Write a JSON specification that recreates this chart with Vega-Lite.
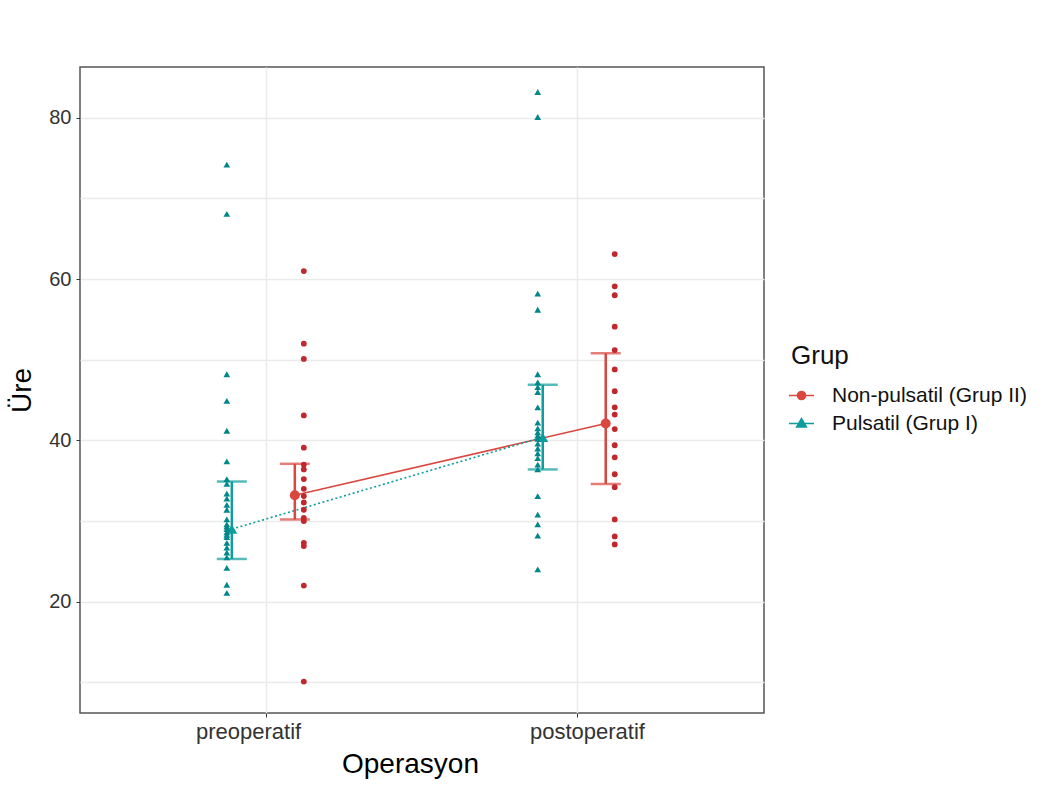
{
  "$schema": "https://vega.github.io/schema/vega-lite/v6.json",
  "width": 684,
  "height": 646,
  "autosize": "none",
  "padding": {"left": 80, "top": 67, "right": 294, "bottom": 72},
  "background": "white",
  "config": {
    "font": "Liberation Sans",
    "view": {"stroke": "#555", "strokeWidth": 1.5},
    "axis": {"domain": false, "gridColor": "#EBEBEB", "gridWidth": 1.5, "labelColor": "#333", "labelFontSize": 20, "titleFontSize": 28, "titleFontWeight": "normal", "titleColor": "#000", "tickColor": "#333", "tickSize": 4},
    "legend": {"titleFontSize": 26, "titleFontWeight": "normal", "titleColor": "#111", "labelFontSize": 21, "labelColor": "#111", "labelLimit": 400, "symbolSize": 320, "symbolStrokeWidth": 1.5, "symbolOpacity": 1, "rowPadding": 6, "titlePadding": 16, "labelOffset": 20}
  },
  "datasets": {
    "points": [
      {"Operasyon": "preoperatif", "Grup": "Pulsatil (Grup I)", "Ure": 74.2},
      {"Operasyon": "preoperatif", "Grup": "Pulsatil (Grup I)", "Ure": 68.1},
      {"Operasyon": "preoperatif", "Grup": "Pulsatil (Grup I)", "Ure": 48.2},
      {"Operasyon": "preoperatif", "Grup": "Pulsatil (Grup I)", "Ure": 44.9},
      {"Operasyon": "preoperatif", "Grup": "Pulsatil (Grup I)", "Ure": 41.2},
      {"Operasyon": "preoperatif", "Grup": "Pulsatil (Grup I)", "Ure": 37.4},
      {"Operasyon": "preoperatif", "Grup": "Pulsatil (Grup I)", "Ure": 35.2},
      {"Operasyon": "preoperatif", "Grup": "Pulsatil (Grup I)", "Ure": 34.6},
      {"Operasyon": "preoperatif", "Grup": "Pulsatil (Grup I)", "Ure": 33.4},
      {"Operasyon": "preoperatif", "Grup": "Pulsatil (Grup I)", "Ure": 32.8},
      {"Operasyon": "preoperatif", "Grup": "Pulsatil (Grup I)", "Ure": 32.0},
      {"Operasyon": "preoperatif", "Grup": "Pulsatil (Grup I)", "Ure": 31.4},
      {"Operasyon": "preoperatif", "Grup": "Pulsatil (Grup I)", "Ure": 30.2},
      {"Operasyon": "preoperatif", "Grup": "Pulsatil (Grup I)", "Ure": 29.6},
      {"Operasyon": "preoperatif", "Grup": "Pulsatil (Grup I)", "Ure": 29.3},
      {"Operasyon": "preoperatif", "Grup": "Pulsatil (Grup I)", "Ure": 29.0},
      {"Operasyon": "preoperatif", "Grup": "Pulsatil (Grup I)", "Ure": 28.6},
      {"Operasyon": "preoperatif", "Grup": "Pulsatil (Grup I)", "Ure": 28.3},
      {"Operasyon": "preoperatif", "Grup": "Pulsatil (Grup I)", "Ure": 28.0},
      {"Operasyon": "preoperatif", "Grup": "Pulsatil (Grup I)", "Ure": 27.3},
      {"Operasyon": "preoperatif", "Grup": "Pulsatil (Grup I)", "Ure": 26.7},
      {"Operasyon": "preoperatif", "Grup": "Pulsatil (Grup I)", "Ure": 26.1},
      {"Operasyon": "preoperatif", "Grup": "Pulsatil (Grup I)", "Ure": 25.5},
      {"Operasyon": "preoperatif", "Grup": "Pulsatil (Grup I)", "Ure": 24.2},
      {"Operasyon": "preoperatif", "Grup": "Pulsatil (Grup I)", "Ure": 22.1},
      {"Operasyon": "preoperatif", "Grup": "Pulsatil (Grup I)", "Ure": 21.1},
      {"Operasyon": "preoperatif", "Grup": "Non-pulsatil (Grup II)", "Ure": 61.0},
      {"Operasyon": "preoperatif", "Grup": "Non-pulsatil (Grup II)", "Ure": 52.0},
      {"Operasyon": "preoperatif", "Grup": "Non-pulsatil (Grup II)", "Ure": 50.1},
      {"Operasyon": "preoperatif", "Grup": "Non-pulsatil (Grup II)", "Ure": 43.1},
      {"Operasyon": "preoperatif", "Grup": "Non-pulsatil (Grup II)", "Ure": 39.1},
      {"Operasyon": "preoperatif", "Grup": "Non-pulsatil (Grup II)", "Ure": 37.0},
      {"Operasyon": "preoperatif", "Grup": "Non-pulsatil (Grup II)", "Ure": 36.4},
      {"Operasyon": "preoperatif", "Grup": "Non-pulsatil (Grup II)", "Ure": 35.2},
      {"Operasyon": "preoperatif", "Grup": "Non-pulsatil (Grup II)", "Ure": 34.0},
      {"Operasyon": "preoperatif", "Grup": "Non-pulsatil (Grup II)", "Ure": 33.1},
      {"Operasyon": "preoperatif", "Grup": "Non-pulsatil (Grup II)", "Ure": 32.3},
      {"Operasyon": "preoperatif", "Grup": "Non-pulsatil (Grup II)", "Ure": 31.4},
      {"Operasyon": "preoperatif", "Grup": "Non-pulsatil (Grup II)", "Ure": 30.4},
      {"Operasyon": "preoperatif", "Grup": "Non-pulsatil (Grup II)", "Ure": 30.0},
      {"Operasyon": "preoperatif", "Grup": "Non-pulsatil (Grup II)", "Ure": 27.3},
      {"Operasyon": "preoperatif", "Grup": "Non-pulsatil (Grup II)", "Ure": 26.9},
      {"Operasyon": "preoperatif", "Grup": "Non-pulsatil (Grup II)", "Ure": 22.0},
      {"Operasyon": "preoperatif", "Grup": "Non-pulsatil (Grup II)", "Ure": 10.1},
      {"Operasyon": "postoperatif", "Grup": "Pulsatil (Grup I)", "Ure": 83.2},
      {"Operasyon": "postoperatif", "Grup": "Pulsatil (Grup I)", "Ure": 80.1},
      {"Operasyon": "postoperatif", "Grup": "Pulsatil (Grup I)", "Ure": 58.2},
      {"Operasyon": "postoperatif", "Grup": "Pulsatil (Grup I)", "Ure": 56.2},
      {"Operasyon": "postoperatif", "Grup": "Pulsatil (Grup I)", "Ure": 48.2},
      {"Operasyon": "postoperatif", "Grup": "Pulsatil (Grup I)", "Ure": 47.2},
      {"Operasyon": "postoperatif", "Grup": "Pulsatil (Grup I)", "Ure": 46.6},
      {"Operasyon": "postoperatif", "Grup": "Pulsatil (Grup I)", "Ure": 46.0},
      {"Operasyon": "postoperatif", "Grup": "Pulsatil (Grup I)", "Ure": 44.1},
      {"Operasyon": "postoperatif", "Grup": "Pulsatil (Grup I)", "Ure": 42.2},
      {"Operasyon": "postoperatif", "Grup": "Pulsatil (Grup I)", "Ure": 41.5},
      {"Operasyon": "postoperatif", "Grup": "Pulsatil (Grup I)", "Ure": 41.0},
      {"Operasyon": "postoperatif", "Grup": "Pulsatil (Grup I)", "Ure": 40.6},
      {"Operasyon": "postoperatif", "Grup": "Pulsatil (Grup I)", "Ure": 40.2},
      {"Operasyon": "postoperatif", "Grup": "Pulsatil (Grup I)", "Ure": 39.6},
      {"Operasyon": "postoperatif", "Grup": "Pulsatil (Grup I)", "Ure": 39.0},
      {"Operasyon": "postoperatif", "Grup": "Pulsatil (Grup I)", "Ure": 38.4},
      {"Operasyon": "postoperatif", "Grup": "Pulsatil (Grup I)", "Ure": 37.8},
      {"Operasyon": "postoperatif", "Grup": "Pulsatil (Grup I)", "Ure": 37.0},
      {"Operasyon": "postoperatif", "Grup": "Pulsatil (Grup I)", "Ure": 36.4},
      {"Operasyon": "postoperatif", "Grup": "Pulsatil (Grup I)", "Ure": 33.1},
      {"Operasyon": "postoperatif", "Grup": "Pulsatil (Grup I)", "Ure": 30.8},
      {"Operasyon": "postoperatif", "Grup": "Pulsatil (Grup I)", "Ure": 29.6},
      {"Operasyon": "postoperatif", "Grup": "Pulsatil (Grup I)", "Ure": 28.2},
      {"Operasyon": "postoperatif", "Grup": "Pulsatil (Grup I)", "Ure": 24.0},
      {"Operasyon": "postoperatif", "Grup": "Non-pulsatil (Grup II)", "Ure": 63.1},
      {"Operasyon": "postoperatif", "Grup": "Non-pulsatil (Grup II)", "Ure": 59.1},
      {"Operasyon": "postoperatif", "Grup": "Non-pulsatil (Grup II)", "Ure": 58.0},
      {"Operasyon": "postoperatif", "Grup": "Non-pulsatil (Grup II)", "Ure": 54.1},
      {"Operasyon": "postoperatif", "Grup": "Non-pulsatil (Grup II)", "Ure": 51.2},
      {"Operasyon": "postoperatif", "Grup": "Non-pulsatil (Grup II)", "Ure": 48.8},
      {"Operasyon": "postoperatif", "Grup": "Non-pulsatil (Grup II)", "Ure": 46.1},
      {"Operasyon": "postoperatif", "Grup": "Non-pulsatil (Grup II)", "Ure": 44.1},
      {"Operasyon": "postoperatif", "Grup": "Non-pulsatil (Grup II)", "Ure": 43.2},
      {"Operasyon": "postoperatif", "Grup": "Non-pulsatil (Grup II)", "Ure": 41.4},
      {"Operasyon": "postoperatif", "Grup": "Non-pulsatil (Grup II)", "Ure": 39.4},
      {"Operasyon": "postoperatif", "Grup": "Non-pulsatil (Grup II)", "Ure": 37.9},
      {"Operasyon": "postoperatif", "Grup": "Non-pulsatil (Grup II)", "Ure": 35.8},
      {"Operasyon": "postoperatif", "Grup": "Non-pulsatil (Grup II)", "Ure": 34.2},
      {"Operasyon": "postoperatif", "Grup": "Non-pulsatil (Grup II)", "Ure": 30.2},
      {"Operasyon": "postoperatif", "Grup": "Non-pulsatil (Grup II)", "Ure": 28.1},
      {"Operasyon": "postoperatif", "Grup": "Non-pulsatil (Grup II)", "Ure": 27.1}
    ],
    "summary": [
      {"Operasyon": "preoperatif", "Grup": "Pulsatil (Grup I)", "median": 29.0, "q1": 25.3, "q3": 34.9},
      {"Operasyon": "preoperatif", "Grup": "Non-pulsatil (Grup II)", "median": 33.2, "q1": 30.2, "q3": 37.1},
      {"Operasyon": "postoperatif", "Grup": "Pulsatil (Grup I)", "median": 40.4, "q1": 36.4, "q3": 46.9},
      {"Operasyon": "postoperatif", "Grup": "Non-pulsatil (Grup II)", "median": 42.1, "q1": 34.6, "q3": 50.8}
    ]
  },
  "layer": [
    {
      "data": {"name": "summary"},
      "encoding": {
        "x": {"field": "Operasyon", "type": "nominal", "title": "Operasyon",
          "scale": {"type": "band", "domain": ["preoperatif", "postoperatif"], "paddingInner": 0.5, "paddingOuter": 0.35},
          "axis": {"labelAngle": 0, "grid": true, "labelFontSize": 22, "labelPadding": 4, "titlePadding": 8, "titleX": 330,
            "labelOffset": {"condition": {"test": "datum.value === 'preoperatif'", "value": -18}, "value": 10}}},
        "xOffset": {"field": "Grup", "type": "nominal", "scale": {"type": "point", "padding": 0, "domain": ["Pulsatil (Grup I)", "Non-pulsatil (Grup II)"], "range": [43, 106]}},
        "color": {"field": "Grup", "type": "nominal", "title": "Grup",
          "scale": {"domain": ["Non-pulsatil (Grup II)", "Pulsatil (Grup I)"], "range": ["#D9473F", "#0E9C9C"]},
          "legend": {"orient": "none", "legendX": 711, "legendY": 276}},
        "y": {"field": "median", "type": "quantitative", "title": "Üre",
          "scale": {"domain": [6.2, 86.3], "nice": false, "zero": false},
          "axis": {"values": [10, 20, 30, 40, 50, 60, 70, 80], "labelExpr": "datum.value % 20 === 0 ? datum.label : ''", "tickOpacity": {"condition": {"test": "datum.value % 20 === 0", "value": 1}, "value": 0}, "grid": true, "labelPadding": 5, "titlePadding": 12}}
      },
      "layer": [
        {"transform": [{"filter": "datum.Grup === 'Non-pulsatil (Grup II)'"}],
         "mark": {"type": "line", "strokeWidth": 1.6}},
        {"transform": [{"filter": "datum.Grup === 'Pulsatil (Grup I)'"}],
         "mark": {"type": "line", "strokeWidth": 1.6, "strokeDash": [2, 2.5]}},
        {"mark": {"type": "rule", "strokeWidth": 2.5},
         "encoding": {"y": {"field": "q1", "type": "quantitative", "title": "Üre"}, "y2": {"field": "q3"}}},
        {"mark": {"type": "tick", "thickness": 2.5, "size": 30},
         "encoding": {"y": {"field": "q1", "type": "quantitative", "title": "Üre"}}},
        {"mark": {"type": "tick", "thickness": 2.5, "size": 30},
         "encoding": {"y": {"field": "q3", "type": "quantitative", "title": "Üre"}}},
        {"transform": [{"filter": "datum.Grup === 'Pulsatil (Grup I)'"}],
         "mark": {"type": "point", "shape": "triangle-up", "filled": true, "size": 120, "opacity": 1}},
        {"transform": [{"filter": "datum.Grup === 'Non-pulsatil (Grup II)'"}],
         "mark": {"type": "point", "shape": "circle", "filled": true, "size": 100, "opacity": 1}},
        {"mark": {"type": "point", "filled": true, "opacity": 0, "strokeWidth": 1.5},
         "encoding": {
           "stroke": {"field": "Grup", "type": "nominal", "title": "Grup", "scale": {"domain": ["Non-pulsatil (Grup II)", "Pulsatil (Grup I)"], "range": ["#D9473F", "#0E9C9C"]}},
           "shape": {"field": "Grup", "type": "nominal", "title": "Grup", "scale": {"domain": ["Non-pulsatil (Grup II)", "Pulsatil (Grup I)"], "range": ["M-1.4,0H1.4M-0.45,0A0.45,0.45,0,1,0,0.45,0A0.45,0.45,0,1,0,-0.45,0Z", "M-1.4,0H1.4M0,-0.55L0.55,0.4L-0.55,0.4Z"]}}
         }}
      ]
    },
    {
      "data": {"name": "points"},
      "encoding": {
        "x": {"field": "Operasyon", "type": "nominal", "title": "Operasyon"},
        "xOffset": {"field": "Grup", "type": "nominal", "scale": {"type": "point", "padding": 0, "domain": ["Pulsatil (Grup I)", "Non-pulsatil (Grup II)"], "range": [38, 115]}},
        "y": {"field": "Ure", "type": "quantitative", "title": "Üre"}
      },
      "layer": [
        {"transform": [{"filter": "datum.Grup === 'Pulsatil (Grup I)'"}],
         "mark": {"type": "point", "shape": "triangle-up", "filled": true, "color": "#00878A", "size": 45, "opacity": 1}},
        {"transform": [{"filter": "datum.Grup === 'Non-pulsatil (Grup II)'"}],
         "mark": {"type": "point", "shape": "circle", "filled": true, "color": "#C0282D", "size": 34, "opacity": 1}}
      ]
    }
  ],
  "resolve": {"scale": {"xOffset": "independent"}}
}
